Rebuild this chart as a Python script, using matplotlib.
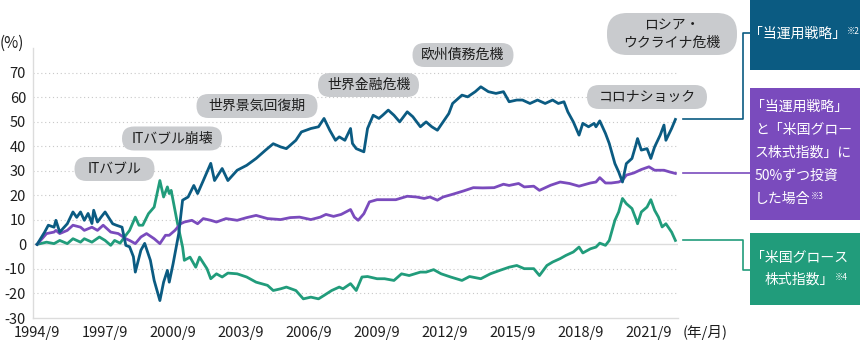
import matplotlib.pyplot as plt
import matplotlib.patches as mpatches
import matplotlib.dates as mdates
from matplotlib.lines import Line2D
import pandas as pd

plt.rcParams['font.family'] = ['Noto Sans CJK JP', 'DejaVu Sans']
plt.rcParams['axes.unicode_minus'] = False

# ------------------------------------------------------------
# cumulative excess return series (%), monthly dates
# ------------------------------------------------------------
strategy_dates = [
    "1994-09", "1995-01", "1995-03", "1995-06", "1995-07", "1995-09", "1996-01", "1996-04",
    "1996-06", "1996-08", "1996-10", "1996-12", "1997-02", "1997-03", "1997-05", "1997-07",
    "1997-09", "1998-01", "1998-03", "1998-06", "1998-08", "1998-10", "1998-12", "1999-01",
    "1999-04", "1999-06", "1999-09", "1999-11", "2000-02", "2000-04", "2000-06", "2000-07",
    "2000-09", "2000-12", "2001-02", "2001-05", "2001-08", "2001-10", "2002-01", "2002-05",
    "2002-07", "2002-11", "2003-02", "2003-07", "2003-12", "2004-05", "2004-10", "2005-02",
    "2005-06", "2005-09", "2006-02", "2006-05", "2006-10", "2007-02", "2007-05", "2007-08",
    "2007-11", "2008-01", "2008-04", "2008-07", "2008-08", "2008-10", "2009-02", "2009-04",
    "2009-07", "2009-10", "2009-12", "2010-03", "2010-06", "2010-09", "2011-01", "2011-04",
    "2011-08", "2011-11", "2012-02", "2012-05", "2012-08", "2012-11", "2013-01", "2013-06",
    "2013-09", "2014-01", "2014-04", "2014-08", "2014-12", "2015-04", "2015-07", "2015-11",
    "2016-02", "2016-06", "2016-10", "2017-02", "2017-06", "2017-09", "2017-12", "2018-02",
    "2018-05", "2018-08", "2018-10", "2019-01", "2019-04", "2019-05", "2019-07", "2019-10",
    "2019-12", "2020-03", "2020-05", "2020-07", "2020-09", "2020-12", "2021-02", "2021-03",
    "2021-05", "2021-08", "2021-10", "2021-12", "2022-03", "2022-05", "2022-06", "2022-09",
    "2022-11",
]
strategy_vals = [
    0, 5, 7.8, 7, 9.8, 5, 8.4, 13.2,
    11, 13.2, 9.8, 12.6, 8.5, 13.9, 9.1, 11.2,
    13.2, 8.4, 7.8, 7, -0.4, -1, -5, -11.3,
    -2.4, 0.4, -6.5, -14.7, -22.9, -15.4, -10.6, -15.4,
    -7.9, 4.4, 18, 19.3, 24, 20.7, 26, 33,
    26, 30.9, 26, 30.2, 32.2, 35, 38.4, 41,
    39.7, 39, 42.4, 45.8, 47.2, 47.9, 51.3, 46.5,
    42.4, 43.8, 42.4, 47.2, 41.1, 39, 37.7, 47.2,
    52.6, 51.3, 52.6, 54.7, 52.6, 49.9, 54, 52,
    47.9, 49.9, 47.9, 46.5, 49.9, 53.3, 57.4, 60.8,
    60.1, 62.2, 64.2, 62.2, 61.5, 62.2, 58.1, 58.8,
    58.8, 57.4, 58.8, 57.4, 58.8, 57.4, 58.1, 54,
    49.9, 44.5, 49.3, 47.9, 49.3, 47.9, 50.3, 45.2,
    41.1, 32.9, 29.5, 25.4, 32.9, 35, 40.4, 43.1,
    38.4, 39, 35, 39.7, 44.5, 48.6, 42.4, 47.2,
    50.9,
]

mix_dates = [
    "1994-09", "1995-02", "1995-06", "1995-07", "1995-09", "1996-01", "1996-04", "1996-08",
    "1996-10", "1997-02", "1997-05", "1997-08", "1997-12", "1998-04", "1998-08", "1998-10",
    "1999-01", "1999-04", "1999-07", "1999-11", "2000-02", "2000-05", "2000-07", "2000-10",
    "2001-01", "2001-03", "2001-07", "2001-10", "2002-01", "2002-05", "2002-08", "2003-01",
    "2003-07", "2003-12", "2004-05", "2004-11", "2005-06", "2005-11", "2006-04", "2006-10",
    "2007-03", "2007-06", "2007-10", "2008-02", "2008-07", "2008-09", "2008-11", "2009-02",
    "2009-05", "2009-09", "2010-02", "2010-07", "2011-01", "2011-06", "2011-10", "2012-01",
    "2012-05", "2012-08", "2013-01", "2013-07", "2013-12", "2014-05", "2014-11", "2015-04",
    "2015-07", "2015-12", "2016-03", "2016-08", "2016-11", "2017-05", "2017-10", "2018-03",
    "2018-08", "2019-02", "2019-05", "2019-07", "2019-10", "2020-01", "2020-05", "2020-07",
    "2020-09", "2021-01", "2021-05", "2021-09", "2021-12", "2022-05", "2022-08", "2022-11",
]
mix_vals = [
    0, 4.4, 5, 5.7, 4.4, 5.7, 7.8, 7,
    5.7, 7, 5.7, 7.8, 5, 4.4, 2.3, 1.6,
    0.3, 3, 4.4, 2.3, 0.3, 3.7, 3.7, 5.7,
    8.4, 9.1, 9.8, 8.4, 10.5, 9.8, 9.1, 10.5,
    9.8, 10.9, 11.8, 10.5, 10.1, 10.9, 11.1, 10.1,
    11.1, 12.2, 11.4, 12.2, 14.2, 11.1, 9.8, 12.5,
    17.3, 18.2, 18.2, 18.2, 19.6, 19.3, 18.7, 19.3,
    18, 19.3, 20.4, 21.8, 23.1, 23, 23.1, 24.5,
    24, 24.8, 23.4, 23.7, 22, 24.1, 25.4, 24.8,
    23.7, 25, 25.4, 27.2, 25, 25, 25.4, 26.1,
    28.2, 29.1, 30.5, 31.6, 30.2, 30.2, 29.5, 28.9,
]

growth_dates = [
    "1994-09", "1995-02", "1995-06", "1995-09", "1996-01", "1996-04", "1996-08", "1996-10",
    "1997-02", "1997-06", "1997-09", "1997-12", "1998-02", "1998-05", "1998-08", "1998-10",
    "1999-01", "1999-03", "1999-05", "1999-08", "1999-11", "2000-02", "2000-04", "2000-06",
    "2000-07", "2000-08", "2000-11", "2001-02", "2001-03", "2001-06", "2001-09", "2001-11",
    "2002-03", "2002-05", "2002-08", "2002-11", "2003-02", "2003-07", "2003-12", "2004-05",
    "2004-11", "2005-02", "2005-06", "2005-09", "2006-02", "2006-06", "2006-10", "2007-02",
    "2007-05", "2007-09", "2008-01", "2008-03", "2008-07", "2008-10", "2009-01", "2009-04",
    "2009-09", "2010-01", "2010-06", "2010-10", "2011-02", "2011-08", "2011-11", "2012-03",
    "2012-07", "2012-12", "2013-06", "2013-10", "2014-04", "2014-09", "2015-02", "2015-07",
    "2015-11", "2016-03", "2016-08", "2016-11", "2017-03", "2017-06", "2017-10", "2018-01",
    "2018-05", "2018-08", "2018-10", "2019-02", "2019-05", "2019-07", "2019-10", "2019-12",
    "2020-03", "2020-05", "2020-07", "2020-09", "2020-12", "2021-02", "2021-03", "2021-05",
    "2021-08", "2021-10", "2021-12", "2022-02", "2022-04", "2022-06", "2022-09", "2022-11",
]
growth_vals = [
    0, 0.9, 0.3, 1.6, 0.3, 2.3, 0.9, 2.3,
    0.9, 3, 1.6, -0.4, 1.6, 0.5, 3.7, 5.7,
    11.1, 7.8, 7.8, 12.5, 15.2, 26, 19.3, 23.4,
    20.7, 22, 9.8, -1.1, -6.5, -5.2, -9.3, -5.2,
    -9.9, -14, -12, -13.3, -11.7, -12, -13.3, -15.4,
    -16.7, -18.8, -18.1, -17.4, -18.8, -22.2, -21.5, -22.2,
    -20.8, -18.8, -17.4, -18.1, -16, -18.8, -13.3, -13.1,
    -14, -14, -14.7, -12, -12.7, -11.3, -11.3, -10.3,
    -12, -13.3, -14.7, -13.1, -14, -12, -10.6, -9.3,
    -8.6, -9.9, -9.9, -12.7, -8.6, -7.2, -5.8, -4.5,
    -3.1, -1.1, -3.5, -1.8, -1.1, 0.5, -0.4, 1.6,
    9.8, 13.2, 18.7, 16.6, 14.6, 10.5, 8.4, 13.2,
    15.2, 18.2, 13.9, 11.1, 7.1, 8.4, 5, 1.6,
]

tick_years = list(range(1994, 2022, 3))
y_ticks = list(range(-30, 80, 10))

events = ["ITバブル", "ITバブル崩壊", "世界景気回復期", "世界金融危機",
          "欧州債務危機", "ロシア・\nウクライナ危機", "コロナショック"]

strategy_label = "「当運用戦略」"
mix_label = ["「当運用戦略」", "と「米国グロー", "ス株式指数」に", "50%ずつ投資", "した場合"]
growth_label = ["「米国グロース", "株式指数」"]

# ------------------------------------------------------------
# layout (figure pixels, origin top-left)
# ------------------------------------------------------------
W, H = 860, 346
BLUE = "#0b5b82"
PURPLE = "#7a4bbd"
GREEN = "#219c7b"
BUBBLE = "#c9cbce"
TEXT = "#1e1e1e"

# (cx, cy, w, h) of each event bubble
bubble_boxes = [
    (114.5, 169, 80, 24),
    (172, 138.5, 100, 24),
    (257, 106, 121, 24),
    (368.5, 85, 101, 24),
    (463, 55, 101, 24),
    (672, 34, 130, 42),
    (647, 97, 120, 24),
]


def fx(x):
    return x / W


def fy(y):
    return 1 - y / H


def to_dates(d):
    return pd.to_datetime(d, format="%Y-%m")


fig = plt.figure(figsize=(W / 100, H / 100), dpi=100)
ax = fig.add_axes([fx(33), fy(318), (678 - 33) / W, (318 - 48) / H])

series = [
    (growth_dates, growth_vals, GREEN),
    (mix_dates, mix_vals, PURPLE),
    (strategy_dates, strategy_vals, BLUE),
]
for dates, vals, color in series:
    ax.plot(to_dates(dates), vals, color=color, lw=2.0, solid_joinstyle="round", zorder=3)

ax.set_xlim(pd.Timestamp("1994-06-27"), pd.Timestamp("2022-12-13"))
ax.set_ylim(-30, 80)

ax.set_xticks(to_dates([f"{y}-09" for y in tick_years]))
ax.set_xticklabels([f"{y}/9" for y in tick_years])
ax.set_yticks(y_ticks)
ax.set_yticklabels([str(v) for v in y_ticks])
ax.tick_params(length=0, labelsize=10.5, colors=TEXT)
ax.tick_params(axis="y", pad=5)
ax.tick_params(axis="x", pad=6)

for v in y_ticks:
    if v == 0:
        ax.axhline(v, color="#dcdcdc", lw=1.0, zorder=1)
    elif v > -30:
        ax.axhline(v, color="#c8c8c8", lw=0.8, ls=(0, (1, 2.5)), zorder=1)

for side in ["top", "right"]:
    ax.spines[side].set_visible(False)
for side in ["left", "bottom"]:
    ax.spines[side].set_color("#dcdcdc")
    ax.spines[side].set_linewidth(1.0)

fig.text(fx(0), fy(43), "(%)", fontsize=11, va="center", ha="left", color=TEXT)
fig.text(fx(683), fy(333), "(年/月)", fontsize=10.5, va="center", ha="left", color=TEXT)

# event bubbles
for label, (cx, cy, w, h) in zip(events, bubble_boxes):
    box = mpatches.FancyBboxPatch(
        ((cx - w / 2) / 100, (H - cy - h / 2) / 100), w / 100, h / 100,
        boxstyle=f"round,pad=0,rounding_size={min(h / 2, 20) / 100}",
        transform=fig.dpi_scale_trans, facecolor=BUBBLE, edgecolor="none", zorder=5)
    fig.add_artist(box)
    fig.text(fx(cx), fy(cy), label, fontsize=10, ha="center", va="center",
             color=TEXT, linespacing=1.25, zorder=6)

# legend panels on the right
panels = [
    (0, 70, BLUE),
    (88, 220, PURPLE),
    (233, 305, GREEN),
]
for top, bottom, color in panels:
    fig.add_artist(mpatches.Rectangle((fx(750), fy(bottom)), 110 / W, (bottom - top) / H,
                                      transform=fig.transFigure, facecolor=color,
                                      edgecolor="none"))

renderer = fig.canvas.get_renderer()


def panel_text(x, y, text, note=None):
    t = fig.text(fx(x), fy(y), text, fontsize=10, ha="left", va="center", color="white")
    if note:
        bb = t.get_window_extent(renderer)
        fig.text((bb.x1 + 0.5) / W, fy(y - 3), note, fontsize=6, ha="left",
                 va="center", color="white")


panel_text(749, 34, strategy_label, "※2")
for i, line in enumerate(mix_label):
    note = "※3" if i == len(mix_label) - 1 else None
    panel_text(751 if line.startswith("「") else 755, 107 + 23 * i, line, note)
panel_text(751, 258, growth_label[0])
panel_text(765, 280, growth_label[1], "※4")

# connectors from each line end to its panel
connectors = [
    (strategy_dates, strategy_vals, BLUE, 33),
    (mix_dates, mix_vals, PURPLE, None),
    (growth_dates, growth_vals, GREEN, 270),
]
for dates, vals, color, target in connectors:
    xe = mdates.date2num(to_dates([dates[-1]])[0])
    end = ax.transData.transform((xe, vals[-1]))
    y_end = H - end[1]
    if target is None:
        xs = [683, 750]
        ys = [y_end, y_end]
    else:
        xs = [683, 743, 743, 750]
        ys = [y_end, y_end, target, target]
    fig.add_artist(Line2D([fx(v) for v in xs], [fy(v) for v in ys], color=color, lw=1.2,
                          transform=fig.transFigure))

fig.savefig("out.png", dpi=100)
